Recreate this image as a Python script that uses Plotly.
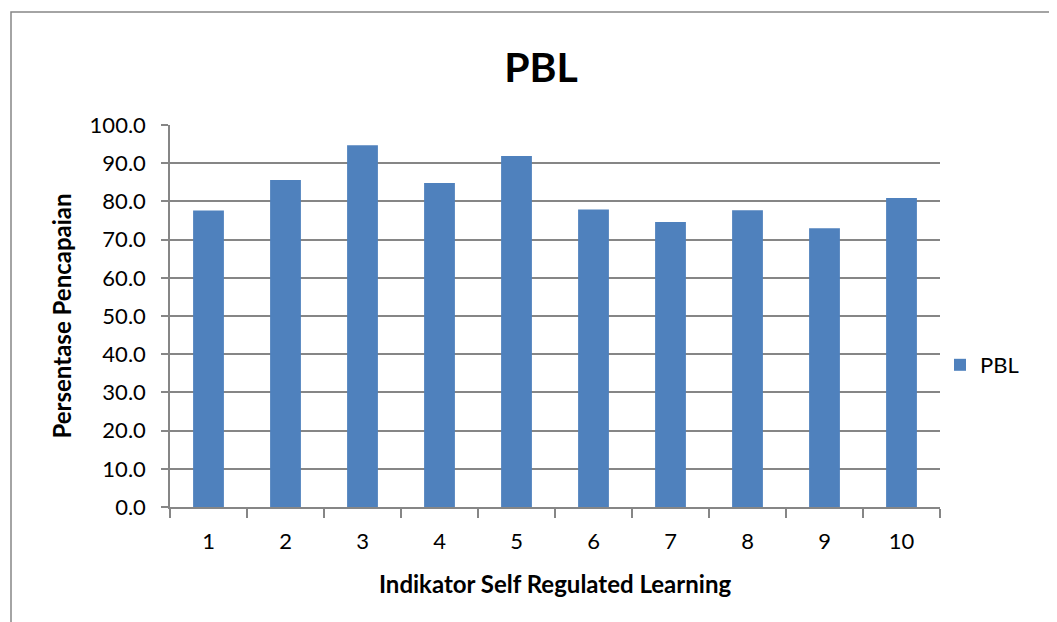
import plotly.graph_objects as go

categories = ["1", "2", "3", "4", "5", "6", "7", "8", "9", "10"]
values = [77.6, 85.6, 94.7, 84.8, 91.9, 77.9, 74.6, 77.7, 73.0, 80.9]
y_ticks = [0, 10, 20, 30, 40, 50, 60, 70, 80, 90, 100]
y_tick_labels = [f"{v:.1f}" for v in y_ticks]

FONT = "Lato, Carlito, Calibri, sans-serif"
GRID = "#868686"

# page body has an 8px margin, so offsets are reduced by 8
L, T = 162, 117
PW, PH = 770, 382

fig = go.Figure()
fig.add_trace(go.Bar(
    x=categories, y=values, name="PBL",
    marker=dict(color="#4F81BD", line=dict(width=0)),
))

fig.update_layout(
    width=1057, height=622,
    margin=dict(l=L, r=1057 - L - PW, t=T, b=622 - T - PH),
    paper_bgcolor="white", plot_bgcolor="white",
    bargap=0.6,
    showlegend=True,
    font=dict(family=FONT, color="black", size=22),
    title=dict(text="<b>PBL</b>", x=533 / 1057, xref="container", xanchor="center",
               y=1 - 60 / 622, yref="container", yanchor="middle",
               font=dict(size=41, family=FONT, color="black")),
    legend=dict(x=1.0, y=(507 - 365) / PH, xanchor="left", yanchor="middle",
                font=dict(size=22, family=FONT), itemwidth=30,
                bgcolor="rgba(0,0,0,0)"),
    xaxis=dict(
        type="category", showgrid=False, showline=True, linecolor=GRID, linewidth=1.5,
        ticks="outside", tickson="boundaries", ticklen=9, tickcolor=GRID, tickwidth=1.5,
        tickfont=dict(size=22, family=FONT), ticklabelstandoff=14,
        title=dict(text="<b>Indikator Self Regulated Learning</b>", standoff=23,
                   font=dict(size=24, family=FONT)),
    ),
    yaxis=dict(
        range=[0, 100], tickvals=y_ticks, ticktext=y_tick_labels,
        showgrid=True, gridcolor=GRID, gridwidth=1.5,
        showline=True, linecolor=GRID, linewidth=1.5,
        ticks="outside", ticklen=7, tickcolor=GRID, tickwidth=1.5,
        tickfont=dict(size=22, family=FONT), ticklabelstandoff=11, zeroline=False,
        title=dict(text="<b>Persentase Pencapaian</b>", standoff=11,
                   font=dict(size=24, family=FONT)),
    ),
    shapes=[dict(type="rect", xref="paper", yref="paper",
                 x0=(11 - 170) / PW, x1=(1062 - 170) / PW,
                 y0=(507 - 630) / PH, y1=(507 - 12) / PH,
                 line=dict(color="#868686", width=1.5), fillcolor="rgba(0,0,0,0)",
                 layer="below")],
)

fig.write_html("out.html")
